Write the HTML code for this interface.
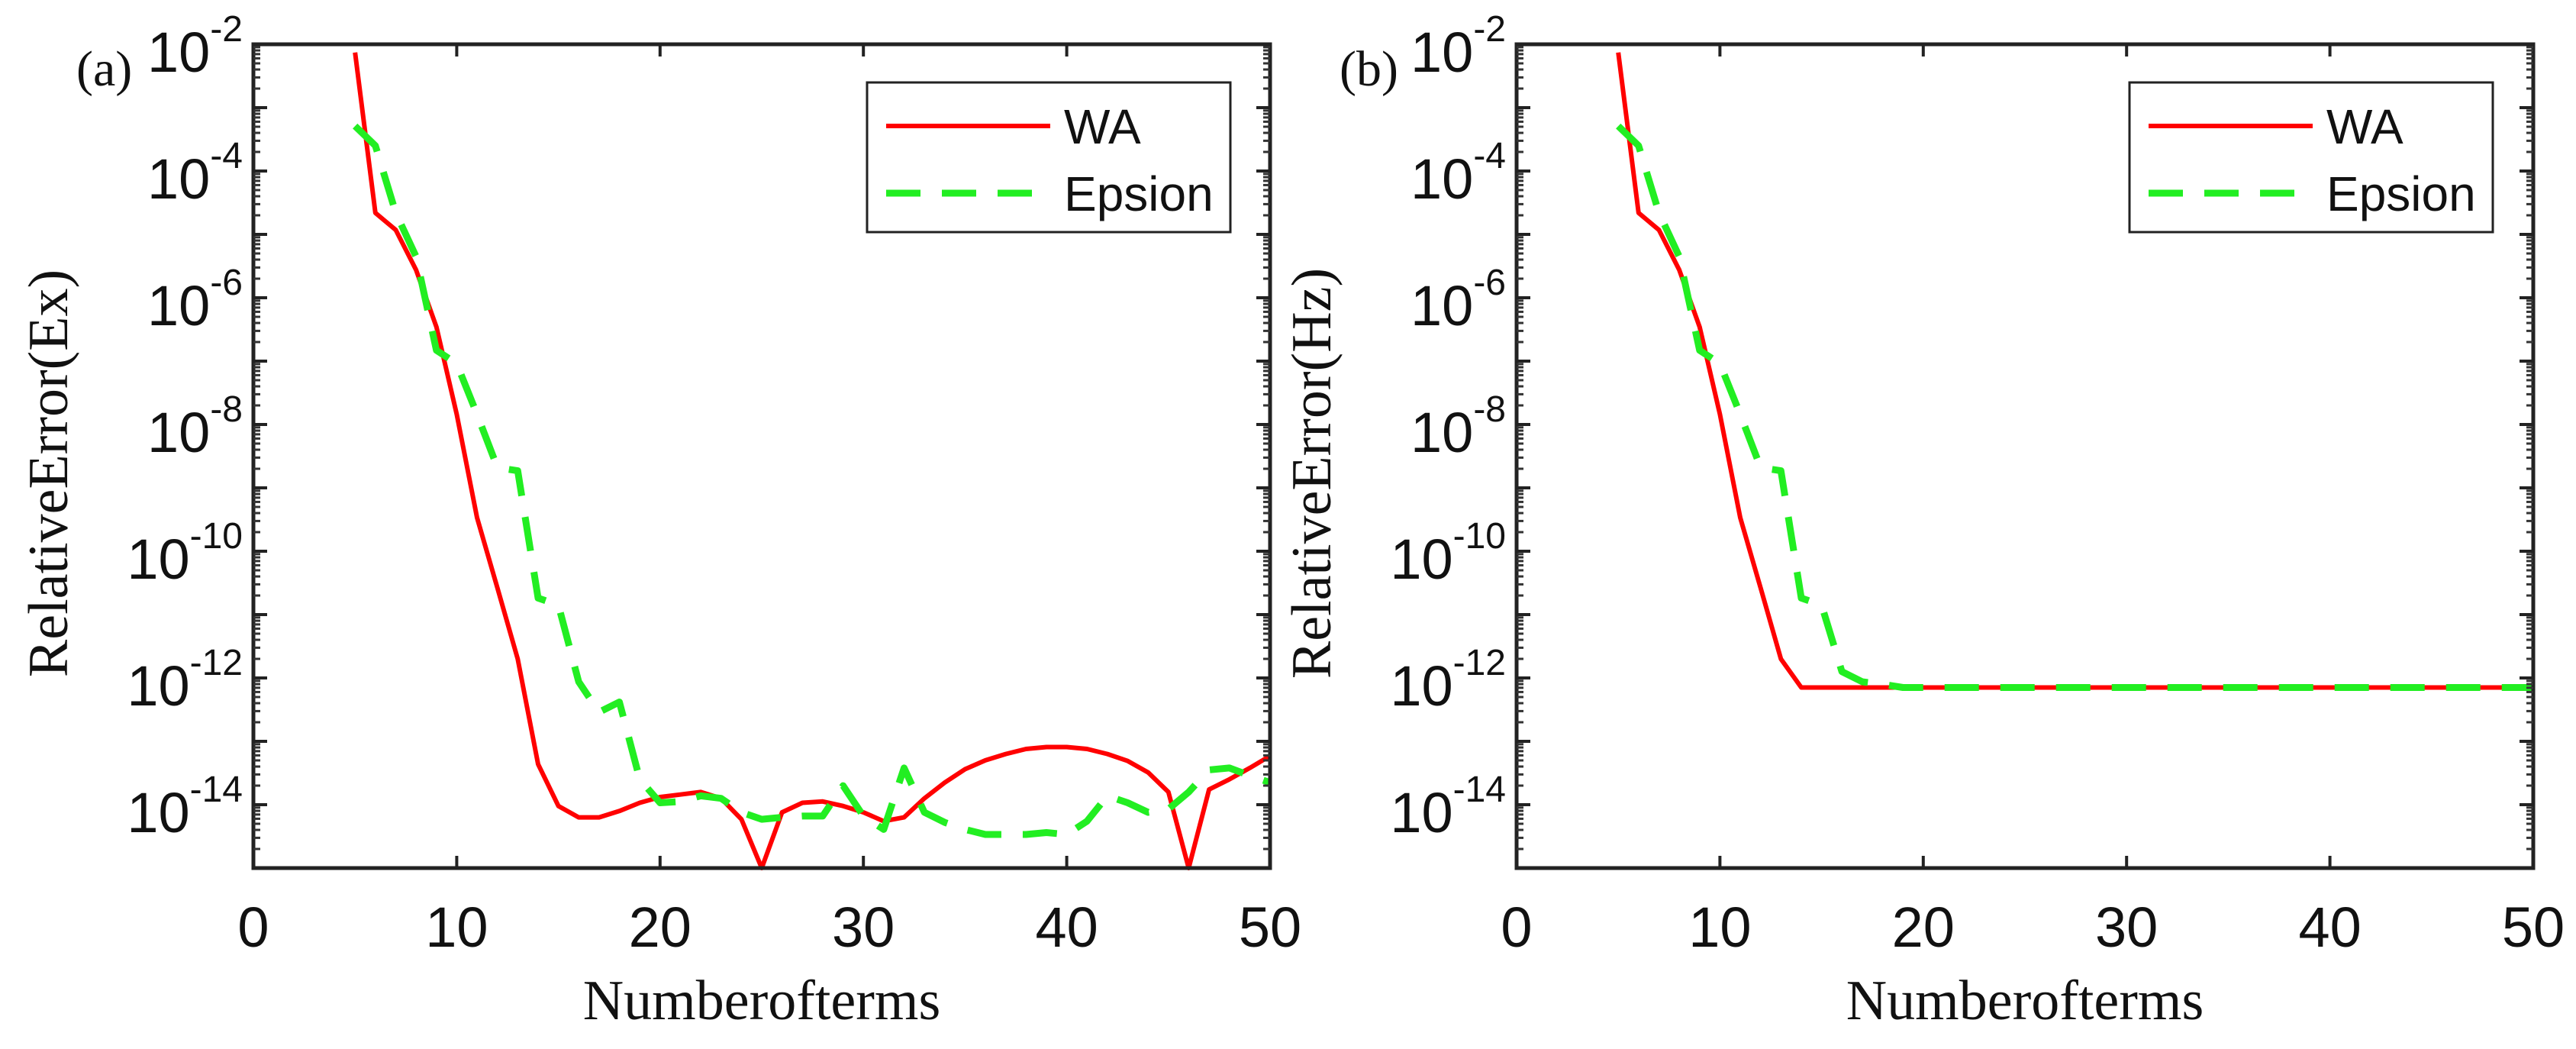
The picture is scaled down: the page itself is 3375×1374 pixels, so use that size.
<!DOCTYPE html>
<html><head><meta charset="utf-8"><style>
html,body{margin:0;padding:0;background:#fff;}
svg{display:block;}
</style></head><body>
<svg id="chart" width="3375" height="1374" viewBox="0 0 3375 1374" xmlns="http://www.w3.org/2000/svg"></svg>
<script>
const xTicks = [0,10,20,30,40,50];
const yTickExps = [-2,-4,-6,-8,-10,-12,-14];
const nTerms = [5,6,7,8,9,10,11,12,13,14,15,16,17,18,19,20,21,22,23,24,25,26,27,28,29,30,31,32,33,34,35,36,37,38,39,40,41,42,43,44,45,46,47,48,49,50];
const waEx = [-2.13,-4.66,-4.93,-5.56,-6.46,-7.84,-9.47,-10.58,-11.7,-13.36,-14.02,-14.2,-14.2,-14.1,-13.97,-13.88,-13.84,-13.8,-13.9,-14.23,-15,-14.12,-13.97,-13.95,-14.02,-14.12,-14.26,-14.2,-13.9,-13.65,-13.44,-13.3,-13.2,-13.12,-13.09,-13.09,-13.12,-13.2,-13.31,-13.49,-13.8,-15,-13.76,-13.6,-13.42,-13.23];
const epsEx = [-3.29,-3.6,-4.66,-5.35,-6.83,-7.04,-7.84,-8.68,-8.73,-10.74,-10.85,-12.06,-12.54,-12.38,-13.6,-13.97,-13.95,-13.86,-13.9,-14.12,-14.23,-14.2,-14.18,-14.18,-13.7,-14.18,-14.39,-13.42,-14.12,-14.28,-14.39,-14.47,-14.47,-14.47,-14.44,-14.47,-14.26,-13.86,-13.97,-14.12,-14.07,-13.8,-13.45,-13.42,-13.54,-13.65];
const waHz = [-2.13,-4.66,-4.93,-5.56,-6.46,-7.84,-9.47,-10.58,-11.7,-12.15,-12.15,-12.15,-12.15,-12.15,-12.15,-12.15,-12.15,-12.15,-12.15,-12.15,-12.15,-12.15,-12.15,-12.15,-12.15,-12.15,-12.15,-12.15,-12.15,-12.15,-12.15,-12.15,-12.15,-12.15,-12.15,-12.15,-12.15,-12.15,-12.15,-12.15,-12.15,-12.15,-12.15,-12.15,-12.15,-12.15];
const epsHz = [-3.29,-3.6,-4.66,-5.35,-6.83,-7.04,-7.84,-8.68,-8.73,-10.74,-10.85,-11.9,-12.06,-12.1,-12.15,-12.15,-12.15,-12.15,-12.15,-12.15,-12.15,-12.15,-12.15,-12.15,-12.15,-12.15,-12.15,-12.15,-12.15,-12.15,-12.15,-12.15,-12.15,-12.15,-12.15,-12.15,-12.15,-12.15,-12.15,-12.15,-12.15,-12.15,-12.15,-12.15,-12.15,-12.15];

const NS='http://www.w3.org/2000/svg';
const svg=document.getElementById('chart');
function mk(tag,attrs,parent){const e=document.createElementNS(NS,tag);for(const k in attrs)e.setAttribute(k,attrs[k]);(parent||svg).appendChild(e);return e;}

function panel(opt){
  const L=opt.left,T=58,W=1332,H=1079;
  const g=mk('g',{});
  
  
  const xs=v=>L+v/50*W;
  const ys=e=>T+(-2-e)/13*H;
  function line(vals,color,dash,nm){
    let d='';
    nTerms.forEach((n,i)=>{d+=(i?'L':'M')+xs(n).toFixed(1)+' '+ys(vals[i]).toFixed(1);});
    const p=mk('path',{d:d,fill:'none',stroke:color,'stroke-width':dash?9:6,'stroke-dasharray':dash||'none','stroke-linejoin':'round'},g);
    
    
  }
  line(opt.wa,'#ff0000',null,'wa-line');
  line(opt.eps,'#22ee22','45 28','epsion-line');
  const fr=mk('rect',{x:L,y:T,width:W,height:H,fill:'none',stroke:'#222','stroke-width':5},g);
  
  
  xTicks.forEach(v=>{
    const x=xs(v);
    mk('line',{x1:x,y1:T+H,x2:x,y2:T+H-16,stroke:'#222','stroke-width':4},g);
    mk('line',{x1:x,y1:T,x2:x,y2:T+16,stroke:'#222','stroke-width':4},g);
    const t=mk('text',{x:x,y:1240,'text-anchor':'middle','font-family':'Liberation Sans, sans-serif','font-size':74,fill:'#111'},g);
    t.textContent=v;
    
    
  });
  for(let e=-2;e>=-15;e--){
    const y=ys(e);
    mk('line',{x1:L,y1:y,x2:L+18,y2:y,stroke:'#222','stroke-width':4},g);
    mk('line',{x1:L+W,y1:y,x2:L+W-18,y2:y,stroke:'#222','stroke-width':4},g);
    if(e>-15){for(let m=2;m<10;m++){const ym=ys(e-1+Math.log10(m));
      mk('line',{x1:L,y1:ym,x2:L+9,y2:ym,stroke:'#333','stroke-width':3},g);
      mk('line',{x1:L+W,y1:ym,x2:L+W-9,y2:ym,stroke:'#333','stroke-width':3},g);}}
  }
  yTickExps.forEach(e=>{
    const y=ys(e);
    const t=mk('text',{x:L-14,y:y+36,'text-anchor':'end','font-family':'Liberation Sans, sans-serif','font-size':74,fill:'#111'},g);
    const b=mk('tspan',{},t);b.textContent='10';
    const s=mk('tspan',{dy:-40,'font-size':48},t);s.textContent=String(e);
    
    
  });
  const xl=mk('text',{x:L+W/2,y:1335,'text-anchor':'middle','font-family':'Liberation Serif, serif','font-size':74,fill:'#111'},g);
  xl.textContent='Numberofterms';
  
  
  const yl=mk('text',{x:0,y:0,'text-anchor':'middle','font-family':'Liberation Serif, serif','font-size':74,fill:'#111',transform:`translate(${L-244},620) rotate(-90)`},g);
  yl.textContent=opt.ylabel;
  
  
  const pl=mk('text',{x:L-232,y:112,'font-family':'Liberation Serif, serif','font-size':66,fill:'#111'},g);
  pl.textContent=opt.tag;
  
  
  const lx=opt.legX;
  const lg=mk('g',{},g);
  
  
  mk('rect',{x:lx,y:108,width:476,height:196,fill:'#fff',stroke:'#222','stroke-width':3},lg);
  mk('line',{x1:lx+25,y1:165,x2:lx+240,y2:165,stroke:'#ff0000','stroke-width':6},lg);
  mk('line',{x1:lx+25,y1:253,x2:lx+240,y2:253,stroke:'#22ee22','stroke-width':9,'stroke-dasharray':'45 28'},lg);
  const t1=mk('text',{x:lx+258,y:188,'font-family':'Liberation Sans, sans-serif','font-size':64,fill:'#111'},lg);t1.textContent='WA';
  
  
  const t2=mk('text',{x:lx+258,y:276,'font-family':'Liberation Sans, sans-serif','font-size':64,fill:'#111'},lg);t2.textContent='Epsion';
  
  
}
panel({name:'panel-a',left:332,wa:waEx,eps:epsEx,ylabel:'RelativeError(Ex)',tag:'(a)',legX:1136});
panel({name:'panel-b',left:1987,wa:waHz,eps:epsHz,ylabel:'RelativeError(Hz)',tag:'(b)',legX:2790});
</script>
</body></html>
